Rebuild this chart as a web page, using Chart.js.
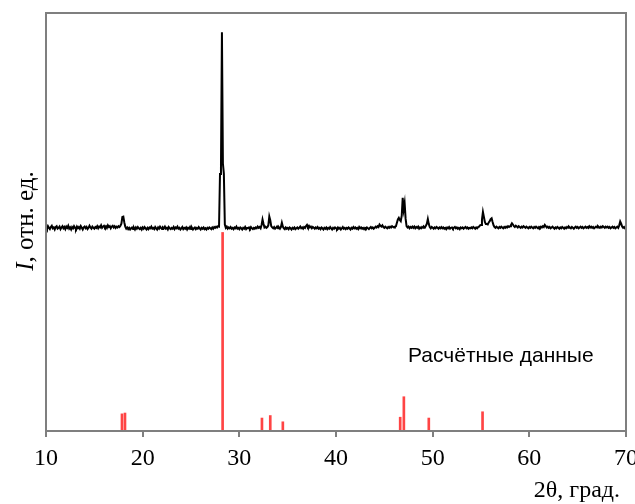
<!DOCTYPE html>
<html>
<head>
<meta charset="utf-8">
<script src="https://cdn.jsdelivr.net/npm/chart.js@4"></script>
<style>
  body { margin: 0; background: #fff; }
  #wrap { width: 635px; height: 504px; position: relative; }
</style>
</head>
<body>
<div id="wrap"><canvas id="xrdChart"></canvas></div>
<script>
// measured scan: 2θ from 10° to 70°, step 0.1°, one row per degree
const scanStart = 10;
const scanStep = 0.1;
const scanIntensity = [
  48.9,48.4,49.0,48.6,48.3,48.8,49.1,48.5,48.7,48.2, // 10
  48.8,49.0,48.4,48.6,48.9,48.3,48.7,49.0,48.5,48.8, // 11
  48.3,48.9,48.6,49.1,48.4,48.7,48.2,48.8,48.5,49.0, // 12
  48.6,48.3,48.9,48.5,48.8,48.4,49.0,48.6,48.2,48.7, // 13
  48.9,48.5,48.8,48.3,48.6,49.1,48.7,48.4,48.9,48.6, // 14
  48.4,48.8,48.6,49.0,48.5,48.9,48.7,49.2,48.6,48.9, // 15
  49.1,48.7,49.0,48.6,49.2,48.8,49.0,48.5,48.9,49.1, // 16
  48.7,49.0,48.6,48.9,48.7,49.0,48.8,49.1,49.6,51.2, // 17
  51.3,49.9,48.9,48.4,48.7,48.3,48.6,48.2,48.5,48.7, // 18
  48.3,48.6,48.2,48.7,48.4,48.8,48.5,48.3,48.6,48.2, // 19
  48.7,48.4,48.8,48.5,48.2,48.6,48.3,48.7,48.5,48.9, // 20
  48.4,48.6,48.3,48.8,48.5,48.2,48.7,48.4,48.9,48.6, // 21
  48.3,48.7,48.5,48.9,48.4,48.6,48.2,48.8,48.5,48.3, // 22
  48.6,48.4,48.8,48.3,48.7,48.5,48.9,48.4,48.6,48.2, // 23
  48.5,48.8,48.3,48.6,48.4,48.7,48.2,48.6,48.4,48.8, // 24
  48.3,48.6,48.2,48.5,48.7,48.3,48.6,48.4,48.8,48.5, // 25
  48.2,48.6,48.4,48.7,48.3,48.5,48.2,48.6,48.4,48.7, // 26
  48.5,48.3,48.7,48.4,48.8,48.6,48.9,48.7,49.0,48.9, // 27
  61.5,63.0,95.4,64.0,61.5,49.4,48.6,48.9,48.4,48.7, // 28
  48.5,48.8,48.4,48.6,48.3,48.7,48.5,48.9,48.4,48.6, // 29
  48.3,48.7,48.5,48.2,48.6,48.4,48.8,48.3,48.6,48.5, // 30
  48.7,48.4,48.8,48.5,48.3,48.6,48.4,48.7,48.5,48.9, // 31
  48.6,48.8,48.5,49.3,50.6,49.6,48.7,48.9,48.6,48.8, // 32
  49.2,51.3,50.4,49.0,48.7,48.5,48.8,48.4,48.6,48.9, // 33
  48.5,48.7,48.4,48.8,49.8,48.9,48.5,48.3,48.7,48.4, // 34
  48.6,48.3,48.7,48.5,48.2,48.6,48.4,48.7,48.3,48.5, // 35
  48.7,48.4,48.6,48.9,48.5,48.7,48.4,48.8,48.6,49.0, // 36
  49.3,48.8,49.1,48.7,48.9,48.5,48.8,48.6,48.4,48.7, // 37
  48.5,48.8,48.4,48.6,48.3,48.7,48.5,48.2,48.6,48.4, // 38
  48.7,48.3,48.6,48.4,48.8,48.5,48.2,48.6,48.4,48.7, // 39
  48.5,48.3,48.7,48.4,48.6,48.2,48.5,48.8,48.4,48.6, // 40
  48.3,48.6,48.4,48.7,48.5,48.2,48.6,48.4,48.8,48.5, // 41
  48.7,48.4,48.6,48.3,48.8,48.5,48.7,48.4,48.6,48.3, // 42
  48.6,48.4,48.7,48.5,48.3,48.6,48.8,48.5,48.7,48.4, // 43
  48.6,48.9,48.7,49.0,48.8,49.4,49.1,48.9,49.2,48.8, // 44
  48.6,48.9,48.7,48.5,48.8,48.6,48.9,48.7,49.0,48.8, // 45
  48.7,48.9,49.0,49.8,50.6,51.0,50.5,50.2,51.5,55.8, // 46
  53.0,54.5,50.8,49.0,48.7,48.9,48.5,48.8,48.6,48.9, // 47
  48.6,48.9,48.5,48.8,48.6,48.9,48.4,48.7,48.5,48.8, // 48
  48.6,48.9,48.7,49.1,49.6,50.7,49.5,48.8,48.5,48.8, // 49
  48.6,48.4,48.7,48.5,48.8,48.6,48.4,48.7,48.5,48.8, // 50
  48.5,48.7,48.4,48.6,48.3,48.7,48.5,48.8,48.4,48.6, // 51
  48.7,48.4,48.6,48.8,48.5,48.7,48.4,48.6,48.3,48.7, // 52
  48.5,48.7,48.4,48.6,48.8,48.5,48.7,48.4,48.6,48.5, // 53
  48.7,48.5,48.8,48.6,48.4,48.7,48.5,48.8,48.9,49.2, // 54
  49.3,50.6,52.4,51.2,50.0,49.5,49.5,49.4,49.9,50.2, // 55
  50.7,50.9,50.0,49.2,48.8,48.6,48.9,48.7,48.5,48.8, // 56
  48.6,48.9,48.7,48.5,48.8,48.6,48.9,48.7,49.0,48.8, // 57
  49.0,49.3,49.7,49.4,49.0,48.8,49.1,48.9,48.7,49.0, // 58
  48.8,48.6,48.9,48.7,49.0,48.8,48.6,48.9,48.7,48.5, // 59
  48.8,48.6,48.9,48.7,48.5,48.8,48.6,48.9,48.7,48.5, // 60
  48.8,48.6,48.9,48.7,49.0,48.8,49.3,49.0,48.7,48.9, // 61
  48.6,48.8,48.5,48.7,48.9,48.6,48.4,48.7,48.5,48.8, // 62
  48.6,48.4,48.7,48.5,48.8,48.6,48.4,48.7,48.5,48.8, // 63
  48.6,48.9,48.7,48.5,48.8,48.6,48.4,48.7,48.9,48.6, // 64
  48.8,48.5,48.7,48.9,48.6,48.8,48.5,48.7,48.9,48.6, // 65
  48.8,48.6,49.0,48.7,48.9,48.6,48.8,48.5,48.7,48.9, // 66
  48.7,49.0,48.8,48.6,48.9,48.7,49.0,48.8,48.6,48.9, // 67
  48.7,48.9,48.6,48.8,48.5,48.7,48.9,48.6,48.8,48.5, // 68
  48.7,48.9,48.6,49.2,50.1,49.6,48.9,48.6,48.8,48.5, // 69
  48.7                                               // 70
];

// calculated reflections
const calcAngles = [17.86, 18.17, 28.27, 32.34, 33.2, 34.5, 46.64, 47.02, 49.6, 55.16];
const calcIntensity = [4.1, 4.3, 47.5, 3.1, 3.7, 2.2, 3.3, 8.2, 3.1, 4.6];

const xTicks = [10, 20, 30, 40, 50, 60, 70];

const scanPoints = scanIntensity.map((v, i) => ({
  x: +(scanStart + i * scanStep).toFixed(1),
  y: v
}));
const calcPoints = calcAngles.map((a, i) => ({ x: a, y: calcIntensity[i] }));

const axisGray = '#7f7f7f';
const serif = "'Liberation Serif', 'Times New Roman', serif";

// frame, axis titles and the label over the calculated pattern
const decorations = {
  id: 'decorations',
  afterDraw(chart) {
    const { ctx, chartArea: a, scales } = chart;
    ctx.save();
    ctx.strokeStyle = axisGray;
    ctx.lineWidth = 2;
    ctx.strokeRect(a.left, a.top, a.right - a.left, a.bottom - a.top);

    ctx.fillStyle = '#000';
    ctx.textBaseline = 'alphabetic';

    // x title
    ctx.font = '24px ' + serif;
    ctx.textAlign = 'right';
    ctx.fillText('2θ, град.', 620, 497);

    // y title with italic I
    const italic = 'italic 25px ' + serif;
    const plain = '25px ' + serif;
    ctx.font = italic;
    const wI = ctx.measureText('I').width;
    ctx.font = plain;
    const wRest = ctx.measureText(', отн. ед.').width;
    ctx.translate(33, 221);
    ctx.rotate(-Math.PI / 2);
    ctx.textAlign = 'left';
    const start = -(wI + wRest) / 2;
    ctx.font = italic;
    ctx.fillText('I', start, 0);
    ctx.font = plain;
    ctx.fillText(', отн. ед.', start + wI, 0);
    ctx.setTransform(1, 0, 0, 1, 0, 0);

    // label for the calculated sticks
    ctx.font = "21px 'Liberation Sans', Arial, sans-serif";
    ctx.textAlign = 'left';
    ctx.fillText('Расчётные данные', scales.x.getPixelForValue(47.45), scales.y.getPixelForValue(16.5));
    ctx.restore();
  }
};

new Chart(document.getElementById('xrdChart'), {
  type: 'line',
  data: {
    datasets: [
      {
        type: 'line',
        label: 'Эксперимент',
        data: scanPoints,
        borderColor: '#000',
        borderWidth: 2,
        pointRadius: 0,
        tension: 0,
        order: 1
      },
      {
        type: 'bar',
        label: 'Расчёт',
        data: calcPoints,
        backgroundColor: '#ff4444',
        barThickness: 2,
        grouped: false,
        order: 2
      }
    ]
  },
  options: {
    responsive: true,
    maintainAspectRatio: false,
    animation: false,
    devicePixelRatio: 1,
    layout: { padding: { left: 46, right: 9, top: 13, bottom: 0 } },
    plugins: {
      legend: { display: false },
      tooltip: { enabled: false }
    },
    scales: {
      x: {
        type: 'linear',
        min: 10,
        max: 70,
        offset: false,
        afterBuildTicks: (scale) => {
          scale.ticks = xTicks.map((v) => ({ value: v }));
        },
        afterFit: (scale) => {
          scale.height = 73;
          scale.paddingLeft = 0;
          scale.paddingRight = 0;
        },
        ticks: {
          color: '#000',
          font: { family: serif, size: 24 },
          padding: 7,
          maxRotation: 0,
          autoSkip: false
        },
        grid: {
          offset: false,
          drawOnChartArea: false,
          drawTicks: true,
          tickLength: 6,
          color: axisGray,
          lineWidth: 2
        },
        border: { display: false }
      },
      y: {
        display: false,
        min: 0,
        max: 100
      }
    }
  },
  plugins: [decorations]
});
</script>
</body>
</html>
